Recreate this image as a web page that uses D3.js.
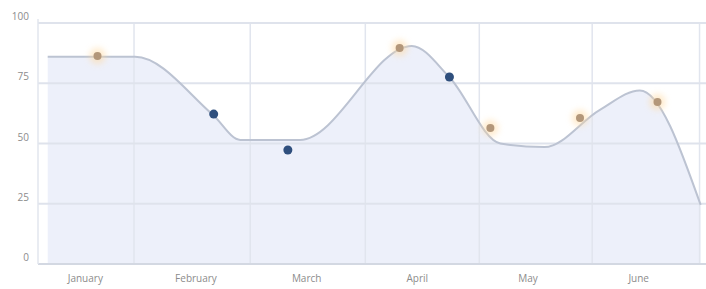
<!DOCTYPE html>
<html>
<head>
<meta charset="utf-8">
<script src="https://cdn.jsdelivr.net/npm/d3@7"></script>
<style>
  body { margin: 0; background: #fff; }
  text { font-family: "Open Sans", sans-serif; }
</style>
</head>
<body>
<div id="chart"></div>
<script>
// month labels sit in the middle of each month slot
const months = ["January", "February", "March", "April", "May", "June"]
const yTicks = [0, 25, 50, 75, 100]
const gridX = [0.94, 1.99, 3.03, 4.06, 5.08, 6.05]

// the smooth area line (x in month units, value 0-100)
const lineX = [0.16, 0.95, 1.65, 1.9, 2.44, 3.45, 3.79, 4.25, 4.65, 5.15, 5.51, 6.06]
const lineY = [86, 86, 62, 51.5, 51.5, 90.5, 77.5, 50, 48.5, 64, 72, 24.5]

// markers
const orangeX = [0.61, 3.34, 4.16, 4.97, 5.67]
const orangeY = [86.3, 89.6, 56.4, 60.6, 67.2]
const blueX = [1.66, 2.33, 3.79]
const blueY = [62.2, 47.3, 77.6]

const width = 706
const height = 289

const svg = d3.select("#chart").append("svg")
    .attr("width", width)
    .attr("height", height)

const x = d3.scaleLinear().domain([0, 6]).range([30, 694])
const y = d3.scaleLinear().domain([0, 100]).range([264, 23])
const left = 38, right = 702

// glow for the orange points
const defs = svg.append("defs")
const glow = defs.append("filter").attr("id", "glow")
    .attr("x", "-150%").attr("y", "-150%").attr("width", "400%").attr("height", "400%")
glow.append("feGaussianBlur").attr("stdDeviation", 3)

defs.append("clipPath").attr("id", "plot")
    .append("rect").attr("x", left).attr("y", 0).attr("width", right - left).attr("height", y(0))

const lineData = lineX.map((d, i) => ({ x: d, y: lineY[i] }))

const area = d3.area()
    .x(d => x(d.x))
    .y0(y(0))
    .y1(d => y(d.y))
    .curve(d3.curveMonotoneX)

const line = d3.line()
    .x(d => x(d.x))
    .y(d => y(d.y))
    .curve(d3.curveMonotoneX)

svg.append("path")
    .datum(lineData)
    .attr("clip-path", "url(#plot)")
    .attr("d", area)
    .attr("fill", "#edf0fa")

// grid on top of the fill
svg.append("g").selectAll("line")
    .data(gridX)
    .enter()
    .append("line")
    .attr("x1", d => x(d)).attr("x2", d => x(d))
    .attr("y1", y(100)).attr("y2", y(0))
    .attr("stroke", "#e1e5ee")
    .attr("stroke-width", 1.5)

svg.append("g").selectAll("line")
    .data(yTicks)
    .enter()
    .append("line")
    .attr("x1", left).attr("x2", width)
    .attr("y1", d => y(d)).attr("y2", d => y(d))
    .attr("stroke", d => d === 0 ? "#d3d8e2" : "#dfe3ec")
    .attr("stroke-width", 2)

// y axis line
svg.append("line")
    .attr("x1", left).attr("x2", left)
    .attr("y1", y(100) - 4).attr("y2", y(0))
    .attr("stroke", "#e2e6ee")
    .attr("stroke-width", 1.5)

svg.append("path")
    .datum(lineData)
    .attr("clip-path", "url(#plot)")
    .attr("d", line)
    .attr("fill", "none")
    .attr("stroke", "#bcc3d2")
    .attr("stroke-width", 2)

// axis labels
svg.append("g").selectAll("text")
    .data(yTicks)
    .enter()
    .append("text")
    .attr("x", 29)
    .attr("y", d => y(d) - 3)
    .attr("text-anchor", "end")
    .attr("font-size", 10)
    .attr("fill", "#8c8c8c")
    .text(d => d)

svg.append("g").selectAll("text")
    .data(months)
    .enter()
    .append("text")
    .attr("x", (d, i) => x(i + 0.5))
    .attr("y", 282)
    .attr("text-anchor", "middle")
    .attr("font-size", 10)
    .attr("fill", "#8c8c8c")
    .text(d => d)

// orange points with a soft halo
const orange = orangeX.map((d, i) => ({ x: d, y: orangeY[i] }))
svg.append("g").selectAll("circle")
    .data(orange)
    .enter()
    .append("circle")
    .attr("cx", d => x(d.x)).attr("cy", d => y(d.y))
    .attr("r", 8)
    .attr("fill", "#ffd9a0")
    .attr("opacity", 0.55)
    .attr("filter", "url(#glow)")

svg.append("g").selectAll("circle")
    .data(orange)
    .enter()
    .append("circle")
    .attr("cx", d => x(d.x)).attr("cy", d => y(d.y))
    .attr("r", 4)
    .attr("fill", "#b3977a")

const blue = blueX.map((d, i) => ({ x: d, y: blueY[i] }))
svg.append("g").selectAll("circle")
    .data(blue)
    .enter()
    .append("circle")
    .attr("cx", d => x(d.x)).attr("cy", d => y(d.y))
    .attr("r", 4.5)
    .attr("fill", "#2f4f7d")
</script>
</body>
</html>
